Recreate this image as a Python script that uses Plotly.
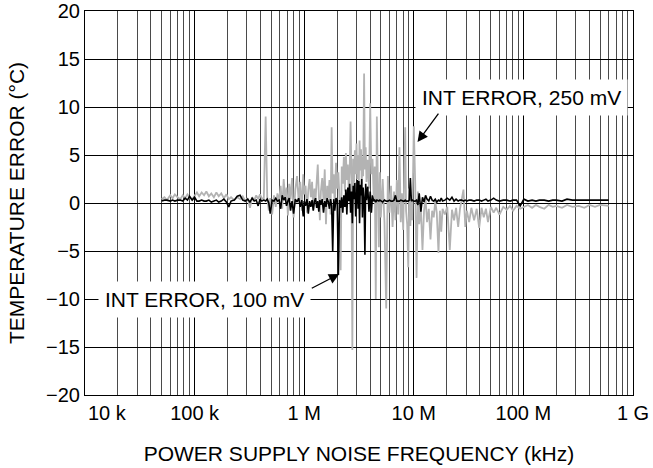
import plotly.graph_objects as go

# Sweep frequencies (Hz)
freq_hz = [
    50e3, 53e3, 56e3, 60e3, 63e3, 66e3, 70e3, 74e3, 78e3, 82e3,
    86e3, 90e3, 95e3, 100e3, 105e3, 110e3, 116e3, 122e3, 128e3, 135e3,
    142e3, 150e3, 158e3, 166e3, 175e3, 185e3, 195e3, 205e3, 215e3, 230e3,
    245e3, 260e3, 275e3, 290e3, 305e3, 320e3, 335e3, 350e3, 365e3, 380e3,
    395e3, 410e3, 428e3, 445e3, 460e3, 475e3, 490e3, 510e3, 530e3, 550e3,
    570e3, 590e3, 610e3, 630e3, 650e3, 670e3, 690e3, 710e3, 730e3, 750e3,
    775e3, 800e3, 830e3, 860e3, 890e3, 920e3, 950e3, 980e3,
    1.00e6, 1.03e6, 1.06e6, 1.09e6, 1.12e6, 1.15e6, 1.18e6, 1.21e6, 1.24e6, 1.27e6,
    1.30e6, 1.33e6, 1.36e6, 1.39e6, 1.42e6, 1.46e6, 1.50e6, 1.54e6, 1.58e6, 1.62e6,
    1.66e6, 1.70e6, 1.74e6, 1.78e6, 1.82e6, 1.86e6, 1.90e6, 1.95e6, 2.00e6, 2.05e6,
    2.10e6, 2.15e6, 2.20e6, 2.25e6, 2.30e6, 2.35e6, 2.40e6, 2.45e6, 2.50e6, 2.55e6,
    2.60e6, 2.65e6, 2.70e6, 2.75e6, 2.80e6, 2.85e6, 2.90e6, 2.95e6, 3.00e6, 3.05e6,
    3.10e6, 3.15e6, 3.20e6, 3.25e6, 3.30e6, 3.35e6, 3.40e6, 3.45e6, 3.52e6, 3.58e6,
    3.64e6, 3.70e6, 3.80e6, 3.90e6, 4.00e6, 4.10e6, 4.20e6, 4.30e6, 4.40e6, 4.50e6,
    4.60e6, 4.70e6, 4.80e6, 4.90e6, 5.00e6, 5.20e6, 5.40e6, 5.60e6, 5.80e6, 6.00e6,
    6.20e6, 6.40e6, 6.60e6, 6.80e6, 7.00e6, 7.20e6, 7.40e6, 7.60e6, 7.80e6, 8.00e6,
    8.20e6, 8.35e6, 8.50e6, 8.70e6, 8.90e6, 9.10e6, 9.30e6, 9.50e6, 9.70e6, 10.0e6,
    10.3e6, 10.6e6, 10.9e6, 11.2e6, 11.6e6, 12.0e6, 12.4e6, 12.8e6, 13.2e6, 13.7e6,
    14.2e6, 14.7e6, 15.2e6, 15.7e6, 16.2e6, 16.8e6, 17.3e6, 17.8e6, 18.3e6, 19.2e6,
    20.2e6, 21.3e6, 22.3e6, 23.3e6, 24.3e6, 25.4e6, 26.4e6, 27.4e6, 28.4e6, 29.5e6,
    30.5e6, 32.0e6, 33.5e6, 35.5e6, 37.5e6, 39.5e6, 41.5e6, 43.5e6, 45.5e6, 47.5e6,
    50.5e6, 53.5e6, 56.5e6, 60.5e6, 65.5e6, 70.5e6, 75.5e6, 80.5e6, 86.5e6, 93.5e6,
    101e6, 110e6, 120e6, 130e6, 140e6, 155e6, 170e6, 185e6, 200e6, 225e6,
    250e6, 280e6, 320e6, 360e6, 400e6, 450e6, 500e6, 600e6,
]

# Temperature error (deg C), 250 mV noise (grey trace)
int_error_250mv = [
    0.4, 0.6, 0.3, 0.8, 0.5, 0.9, 0.6, 0.4, 0.8, 0.5,
    0.9, 0.6, 0.4, 0.8, 1.1, 0.7, 1.1, 0.8, 1.2, 0.7,
    1.0, 0.6, 1.1, 0.7, 1.0, 0.5, 0.9, 0.4, 0.6, 0.3,
    0.6, 0.4, 0.7, 0.2, 0.5, -0.5, 0.6, 0.3, 0.8, 0.4,
    0.9, 0.5, 0.4, 9.0, 0.6, -0.8, 0.5, -1.2, 0.8, -0.4,
    1.0, 0.2, 1.8, -0.6, 2.5, 0.3, 1.6, -1.3, 2.0, 0.4,
    2.6, -1.5, 1.4, 2.8, 0.2, 2.2, -0.8, 3.0,
    0.9, 1.8, -1.0, 1.4, 2.5, 0.6, 2.2, -0.7, 1.5, 0.4,
    2.0, 4.0, 0.8, -1.8, 1.2, 2.6, 0.3, 3.5, -2.2, 1.8,
    0.5, 2.4, -1.2, 7.9, 1.0, 3.0, -0.5, 4.2, 1.5, 3.2,
    0.4, -7.0, 3.8, 2.0, 4.8, 1.2, 5.2, 2.4, 4.0, 1.5,
    3.2, 8.5, 3.0, -15.3, 4.6, 2.2, 5.5, 3.0, 6.2, 2.5,
    5.0, 1.8, 6.5, 3.4, 5.6, 2.0, 4.8, 2.8, 13.5, 3.5,
    5.8, 2.2, 4.5, 1.5, 10.4, 3.0, 4.6, 0.8, 3.8, -10.0,
    9.0, 1.5, -4.6, 3.2, -1.5, 2.5, -2.0, -11.0, 2.8, -1.0,
    1.8, -2.5, 1.2, -1.8, 2.4, -1.2, 5.8, -2.0, 1.0, -2.8,
    2.0, 7.9, -0.8, -2.2, -6.7, 1.5, -2.4, 0.8, -1.8, 8.0,
    2.0, -7.8, 1.2, -2.2, -0.5, -4.9, -0.8, 0.5, -2.0, -0.6,
    -3.8, -0.8, -1.5, 0.2, -1.0, -5.2, -0.8, -3.0, -0.6, -1.2,
    -0.4, -4.9, -0.7, -1.8, -0.5, -2.5, -0.6, 0.6, 1.4, -2.5,
    -0.8, -2.0, -0.5, -1.8, -0.6, -2.6, -0.5, -1.5, -0.6, -2.0,
    -0.4, -1.0, -0.5, -1.2, -0.4, -0.7, -0.3, -0.8, -0.3, -0.6,
    -0.4, -0.2, -0.5, -0.2, -0.4, -0.6, -0.2, -0.4, -0.3, -0.5,
    -0.2, -0.4, -0.3, -0.5, -0.2, -0.4, -0.2, -0.3,
]

# Temperature error (deg C), 100 mV noise (black trace)
int_error_100mv = [
    0.2, 0.3, 0.3, 0.2, 0.3, 0.2, 0.3, 0.3, 0.2, 0.5,
    0.3, 0.7, 0.3, 0.6, 0.2, 0.2, 0.3, 0.2, 0.2, 0.3,
    0.1, 0.2, 0.3, 0.1, 0.2, 0.4, 0.1, -0.4, 0.2, 0.3,
    0.7, 0.8, 0.3, 0.2, 0.4, 0.1, 0.5, 0.2, 0.3, -0.3,
    0.4, 0.2, 0.3, 0.2, 0.4, 0.0, -1.1, 0.3, 0.2, 0.5,
    0.2, 0.3, -0.6, 0.8, 0.3, 0.6, -0.3, 0.2, 0.5, -0.8,
    0.2, -1.1, 0.4, 0.1, 0.5, -0.4, 0.3, -1.4,
    0.2, -0.3, 0.4, -1.1, 0.2, -0.4, 0.3, -0.8, 0.2, 0.5,
    -0.5, 0.2, -0.9, 0.3, -0.2, 0.4, -1.0, 0.2, -0.4, 0.5,
    0.1, -0.6, 0.4, -0.3, -5.1, 0.4, -0.8, 0.5, 0.3, -7.5,
    0.3, -0.5, 0.6, -1.0, 0.8, -0.4, 1.4, -1.2, 1.6, 0.2,
    2.0, -1.0, 1.2, -2.1, 1.8, 0.4, 2.1, -1.4, 1.5, 2.4,
    -0.6, 2.3, -2.1, 1.9, 0.8, 2.5, -1.5, 1.6, 0.4, -5.4,
    2.0, 0.3, 1.7, -0.9, 1.2, -1.0, 0.8, 0.2, 0.3, 0.1,
    0.3, 0.2, 0.2, 0.3, 0.2, 0.1, 0.3, 0.2, 0.2, 0.3,
    0.2, 0.2, 0.3, 0.8, 0.2, 0.2, 0.2, 0.3, 0.2, 0.2,
    0.2, 0.3, 0.2, 0.2, 0.2, 0.3, 2.6, 0.2, 0.3, 0.2,
    0.2, 0.3, -0.2, 1.0, -0.9, 0.6, 0.1, 0.8, 0.4, 0.2,
    0.7, 0.3, 0.2, 0.4, 0.1, 0.3, 0.2, 0.5, 0.2, 0.3,
    0.5, 0.3, 0.6, 0.2, 0.4, 0.2, 0.3, 0.3, 0.2, 0.3,
    0.2, 0.3, 0.3, 0.2, 0.3, 0.3, 0.2, 0.3, 0.4, 0.2,
    0.3, 0.5, 0.3, 0.2, 0.3, 0.3, 0.2, 0.3, 0.3, -0.3,
    0.4, 0.2, 0.3, 0.2, 0.3, 0.3, 0.2, 0.3, 0.3, 0.2,
    0.4, 0.3, 0.3, 0.3, 0.3, 0.3, 0.3, 0.3,
]

x_tick_vals = [1e5, 1e6, 1e7, 1e8, 1e9]
x_tick_text = ["100 k", "1 M", "10 M", "100 M", "1 G"]
y_tick_vals = [-20, -15, -10, -5, 0, 5, 10, 15, 20]
y_tick_text = ["\u221220", "\u221215", "\u221210", "\u22125", "0", "5", "10", "15", "20"]

FONT = "Liberation Sans, Arial, Helvetica, sans-serif"

fig = go.Figure()
fig.add_trace(go.Scatter(
    x=freq_hz, y=int_error_250mv, mode="lines",
    line=dict(color="#b3b3b3", width=1.8), name="INT ERROR, 250 mV",
))
fig.add_trace(go.Scatter(
    x=freq_hz, y=int_error_100mv, mode="lines",
    line=dict(color="#000000", width=1.6), name="INT ERROR, 100 mV",
))

annotations = [
    # "10 k" label, left-aligned at the axis start
    dict(text="10 k", xref="paper", yref="paper", x=0, y=0, xanchor="left",
         yanchor="middle", xshift=1, yshift=-18, showarrow=False,
         font=dict(family=FONT, size=20, color="#000")),
    # label boxes
    dict(text="INT ERROR, 250 mV", x=7.987, y=11.0, xref="x", yref="y",
         showarrow=False, bgcolor="white", borderpad=6,
         font=dict(family=FONT, size=21, color="#000")),
    dict(text="INT ERROR, 100 mV", x=5.086, y=-10.1, xref="x", yref="y",
         showarrow=False, bgcolor="white", borderpad=6,
         font=dict(family=FONT, size=21, color="#000")),
    # arrows
    dict(text="", x=7.034, y=6.35, xref="x", yref="y", showarrow=True,
         ax=22, ay=-30, arrowhead=2, arrowsize=1.6, arrowwidth=1.3,
         arrowcolor="#000"),
    dict(text="", x=6.320, y=-7.4, xref="x", yref="y", showarrow=True,
         ax=-29, ay=15, arrowhead=2, arrowsize=1.6, arrowwidth=1.3,
         arrowcolor="#000"),
]

fig.update_layout(
    width=653, height=468,
    margin=dict(l=85, r=20, t=11, b=73, autoexpand=False),
    paper_bgcolor="white", plot_bgcolor="white",
    showlegend=False,
    font=dict(family=FONT, size=20, color="#000"),
    annotations=annotations,
    xaxis=dict(
        type="log", range=[4, 9], automargin=False,
        tickvals=x_tick_vals, ticktext=x_tick_text,
        showgrid=True, gridcolor="#000", gridwidth=1,
        minor=dict(dtick="D1", showgrid=True, gridcolor="#4a4a4a", gridwidth=1, ticks=""),
        showline=True, linecolor="#000", linewidth=1, mirror=True,
        ticks="", zeroline=False,
        tickfont=dict(family=FONT, size=20),
        title=dict(text="POWER SUPPLY NOISE FREQUENCY (kHz)",
                   font=dict(family=FONT, size=21), standoff=23),
    ),
    yaxis=dict(
        range=[-20, 20], automargin=False,
        tickvals=y_tick_vals, ticktext=y_tick_text,
        showgrid=True, gridcolor="#000", gridwidth=1,
        showline=True, linecolor="#000", linewidth=1, mirror=True,
        ticks="", zeroline=False,
        tickfont=dict(family=FONT, size=20),
        title=dict(text="TEMPERATURE ERROR (°C)",
                   font=dict(family=FONT, size=21), standoff=15),
    ),
)

# Remove the default page margin so the figure sits at the window's corner
fig.write_html(
    "out.html",
    config={"displayModeBar": False, "staticPlot": True},
    post_script="document.body.style.margin='0';document.body.style.overflow='hidden';",
)
